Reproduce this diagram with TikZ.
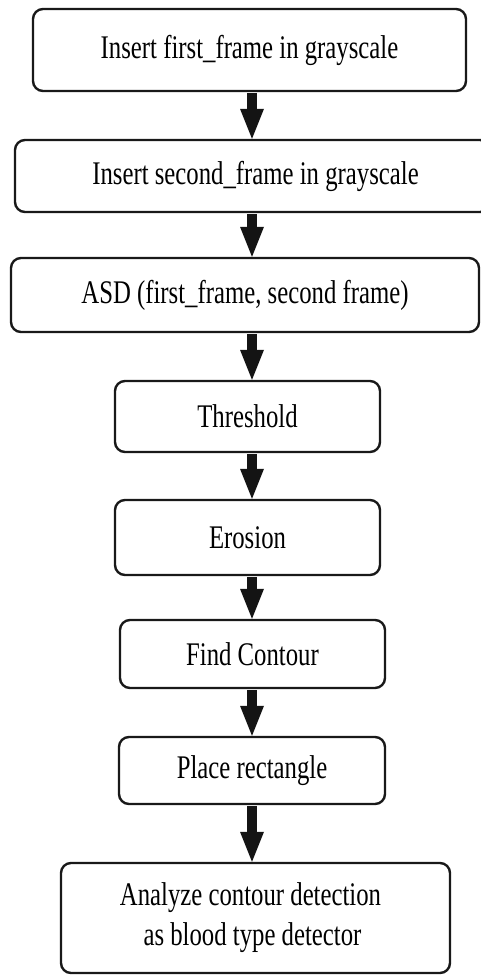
\documentclass[tikz,border=0pt]{standalone}
\usepackage{fontspec}
\setmainfont{Liberation Serif}[FakeStretch=0.75]
\usetikzlibrary{arrows.meta}
\begin{document}
\begin{tikzpicture}[x=1pt,y=-1pt,
  box/.style={draw=black!90, line width=2.4pt, rounded corners=10pt, inner sep=0pt,
    align=center, font=\fontsize{33}{40}\selectfont},
  arr/.style={draw=black!92, line width=10pt, -{Triangle[width=24pt,length=30pt,line width=0pt]}}]
\useasboundingbox (0,0) rectangle (480,975);
\coordinate (ax) at (252,0);
\node[box, minimum width=433pt, minimum height=82pt] (n1) at (249.5,50) {Insert first\_frame in grayscale};
\node[box, minimum width=475pt, minimum height=72pt] (n2) at (252.5,176) {\hspace*{6pt}Insert second\_frame in grayscale};
\node[box, minimum width=468pt, minimum height=74pt] (n3) at (245,295) {ASD (first\_frame, second frame)};
\node[box, minimum width=265pt, minimum height=71pt] (n4) at (247.5,416.5) {Threshold};
\node[box, minimum width=265pt, minimum height=75pt] (n5) at (247.5,537.5) {Erosion};
\node[box, minimum width=265pt, minimum height=68pt] (n6) at (252.5,654) {Find Contour};
\node[box, minimum width=266pt, minimum height=67pt] (n7) at (252,770.5) {Place rectangle};
\node[box, minimum width=389pt, minimum height=110pt] (n8) at (255.5,918) {\hspace*{-10pt}Analyze contour detection\\ \hspace*{-6pt}as blood type detector};
\foreach \a/\b in {n1/n2,n2/n3,n3/n4,n4/n5,n5/n6,n6/n7,n7/n8}{
  \draw[arr] ([yshift=-1pt]\a.south -| ax) -- (\b.north -| ax);
}
\end{tikzpicture}
\end{document}
